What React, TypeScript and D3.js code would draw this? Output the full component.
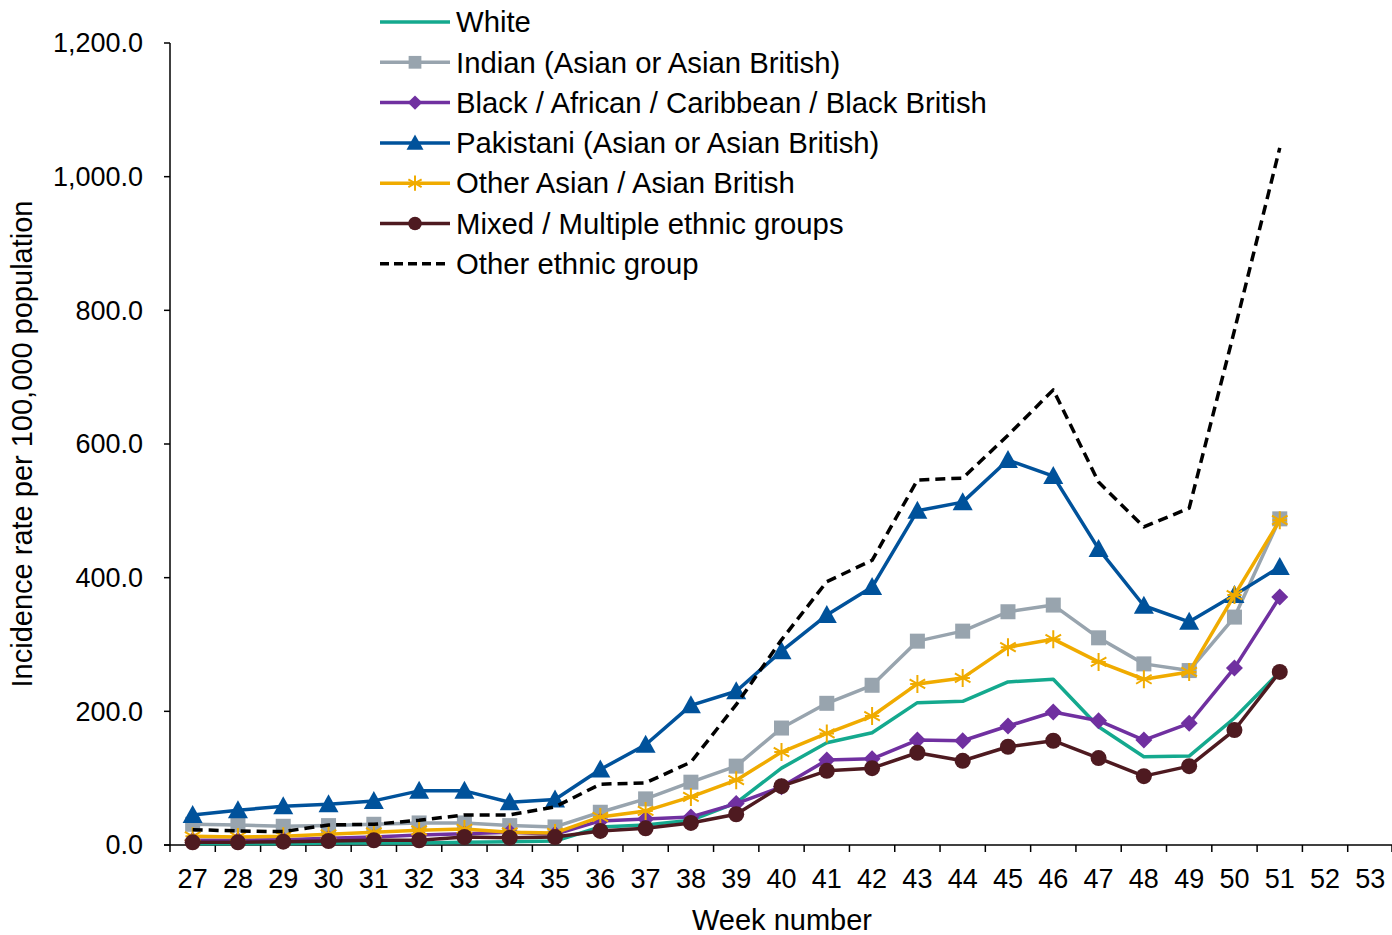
import React, { useEffect } from "react";
import * as d3 from "d3";

const weeks = [27, 28, 29, 30, 31, 32, 33, 34, 35, 36, 37, 38, 39, 40, 41, 42, 43, 44, 45, 46, 47, 48, 49, 50, 51, 52, 53];
const yTicks = [0, 200, 400, 600, 800, 1000, 1200];

const white = [2, 2, 2, 3, 3, 3, 4, 5, 6, 27, 30, 37, 63, 115, 153, 168, 213, 215, 244, 248, 177, 132, 133, 190, 259];
const indian = [31, 30, 28, 29, 31, 33, 33, 29, 27, 49, 69, 94, 118, 175, 212, 239, 305, 320, 349, 359, 310, 271, 261, 341, 488];
const black = [7, 7, 8, 10, 12, 15, 17, 19, 16, 36, 39, 42, 62, 87, 127, 129, 157, 156, 178, 199, 186, 157, 182, 265, 371];
const pakistani = [45, 52, 58, 61, 66, 81, 81, 64, 68, 113, 150, 209, 230, 290, 344, 386, 500, 513, 576, 552, 443, 358, 334, 374, 416];
const otherAsian = [13, 12, 13, 16, 19, 22, 24, 19, 18, 42, 51, 72, 97, 139, 167, 193, 241, 250, 296, 308, 274, 248, 259, 374, 486];
const mixed = [4, 4, 5, 6, 7, 7, 12, 11, 12, 21, 25, 33, 46, 88, 111, 115, 138, 126, 147, 156, 130, 103, 118, 172, 259];
const otherEthnic = [23, 21, 20, 30, 31, 37, 45, 45, 57, 91, 93, 124, 210, 307, 394, 426, 546, 549, 613, 681, 543, 476, 504, 770, 1043];

type Marker = "none" | "square" | "diamond" | "triangle" | "star" | "circle";
const seriesNames = [
  "White",
  "Indian (Asian or Asian British)",
  "Black / African / Caribbean / Black British",
  "Pakistani (Asian or Asian British)",
  "Other Asian / Asian British",
  "Mixed / Multiple ethnic groups",
  "Other ethnic group",
];
const seriesValues = [white, indian, black, pakistani, otherAsian, mixed, otherEthnic];
const seriesColors = ["#14a98e", "#98a4ae", "#7030a0", "#00529b", "#f0ab00", "#4e1a20", "#000000"];
const seriesMarkers: Marker[] = ["none", "square", "diamond", "triangle", "star", "circle", "none"];
const seriesDashed = [false, false, false, false, false, false, true];

const W = 1392;
const H = 935;
const left = 170;
const right = 1393;
const top = 43;
const bottom = 845;

const arial = "'Liberation Sans', Arial, sans-serif";

function MarkerShape({ type, x, y, color, k = 1 }: { type: Marker; x: number; y: number; color: string; k?: number }) {
  if (type === "square") return <rect x={x - 7.5 * k} y={y - 7.5 * k} width={15 * k} height={15 * k} fill={color} />;
  if (type === "diamond")
    return <path d={`M${x},${y - 8.5 * k}L${x + 8.5 * k},${y}L${x},${y + 8.5 * k}L${x - 8.5 * k},${y}Z`} fill={color} />;
  if (type === "triangle")
    return <path d={`M${x},${y - 10 * k}L${x + 10 * k},${y + 8 * k}L${x - 10 * k},${y + 8 * k}Z`} fill={color} />;
  if (type === "circle") return <circle cx={x} cy={y} r={8 * k} fill={color} />;
  if (type === "star") {
    const r = 9 * k;
    const segs = [0, 60, 120].map((a) => {
      const rad = ((a + 90) * Math.PI) / 180;
      return `M${x - r * Math.cos(rad)},${y - r * Math.sin(rad)}L${x + r * Math.cos(rad)},${y + r * Math.sin(rad)}`;
    });
    return <path d={segs.join("") + `M${x - r * 0.8},${y}L${x + r * 0.8},${y}`} stroke={color} strokeWidth={2} fill="none" />;
  }
  return null;
}

export default function App() {
  useEffect(() => {
    document.body.style.margin = "0";
  }, []);
  const x = d3.scaleBand<number>().domain(weeks).range([left, right]);
  const y = d3.scaleLinear().domain([0, 1200]).range([bottom, top]);
  const cx = (i: number) => (x(weeks[i]) as number) + x.bandwidth() / 2;
  const line = d3
    .line<number>()
    .x((_, i) => cx(i))
    .y((v) => y(v));

  const legendX = 380;
  const legendY = 22;
  const legendStep = 40.3;

  return (
    <svg width={W} height={H} style={{ display: "block", background: "#fff" }}>
      {/* axes */}
      <line x1={left} y1={top} x2={left} y2={bottom} stroke="#000" strokeWidth={1.5} />
      <line x1={left - 6} y1={bottom} x2={right} y2={bottom} stroke="#000" strokeWidth={1.5} />
      {yTicks.map((t) => (
        <g key={t}>
          <line x1={left - 6} x2={left} y1={y(t)} y2={y(t)} stroke="#000" strokeWidth={1.5} />
          <text x={143} y={y(t)} dy="0.35em" textAnchor="end" fontFamily={arial} fontSize={27}>
            {d3.format(",.1f")(t)}
          </text>
        </g>
      ))}
      {weeks.map((w, i) => (
        <g key={w}>
          <line x1={x(w)!} x2={x(w)!} y1={bottom} y2={bottom + 7} stroke="#000" strokeWidth={1.5} />
          <text x={cx(i)} y={879} dy="0.35em" textAnchor="middle" fontFamily={arial} fontSize={27}>
            {w}
          </text>
        </g>
      ))}
      <line x1={right - 1} x2={right - 1} y1={bottom} y2={bottom + 7} stroke="#000" strokeWidth={1.5} />
      <text x={782} y={920} dy="0.35em" textAnchor="middle" fontFamily={arial} fontSize={29}>
        Week number
      </text>
      <text
        transform={`translate(22,${(top + bottom) / 2}) rotate(-90)`}
        dy="0.35em"
        textAnchor="middle"
        fontFamily={arial}
        fontSize={29}
      >
        Incidence rate per 100,000 population
      </text>

      {/* series */}
      {seriesValues.map((vals, s) => (
        <g key={s}>
          <path
            d={line(vals) || ""}
            fill="none"
            stroke={seriesColors[s]}
            strokeWidth={3.5}
            strokeDasharray={seriesDashed[s] ? "10,6" : undefined}
            strokeLinejoin="round"
          />
          {vals.map((v, i) => (
            <MarkerShape key={i} type={seriesMarkers[s]} x={cx(i)} y={y(v)} color={seriesColors[s]} />
          ))}
        </g>
      ))}

      {/* legend */}
      {seriesNames.map((name, s) => {
        const ly = legendY + s * legendStep;
        return (
          <g key={name}>
            <line
              x1={legendX}
              x2={legendX + 70}
              y1={ly}
              y2={ly}
              stroke={seriesColors[s]}
              strokeWidth={3.5}
              strokeDasharray={seriesDashed[s] ? "9,5" : undefined}
            />
            <MarkerShape type={seriesMarkers[s]} x={legendX + 35} y={ly} color={seriesColors[s]} k={0.85} />
            <text x={456} y={ly} dy="0.35em" fontFamily={arial} fontSize={29.3}>
              {name}
            </text>
          </g>
        );
      })}
    </svg>
  );
}
